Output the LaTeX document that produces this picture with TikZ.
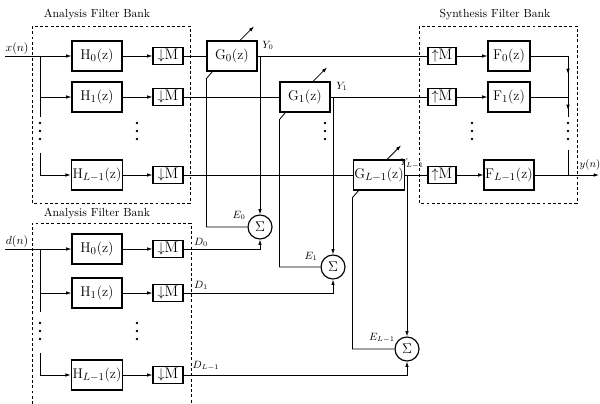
\documentclass[tikz,border=0pt]{standalone}
\usepackage{amsmath}
\usepackage{tikz}
\usetikzlibrary{arrows.meta,positioning,calc}
\newcommand{\dnM}{$\downarrow$M}
\newcommand{\upM}{$\uparrow$M}
\newcommand{\vdotsat}[2]{\foreach \k in {0,1,2} {\fill (#1,#2+\k*8) circle (1.1pt);}}
\tikzset{
  filt/.style={draw, line width=1pt, minimum width=1.5cm, minimum height=0.9cm, inner sep=1pt, font=\fontsize{13}{15}\selectfont},
  synth/.style={filt, minimum width=1.26cm},
  rate/.style={draw, line width=1pt, minimum width=0.9cm, minimum height=0.51cm, inner sep=1pt, font=\fontsize{13}{15}\selectfont},
  rateup/.style={rate, minimum width=0.84cm},
  adder/.style={draw, line width=1pt, circle, minimum size=0.72cm, inner sep=0pt, font=\large},
  bank/.style={dashed, semithick, dash pattern=on 2.5pt off 2pt},
  lab/.style={inner sep=1pt, font=\small},
  title/.style={inner sep=1pt, font=\normalsize}
}

\begin{document}
\begin{tikzpicture}[x=0.03cm, y=-0.03cm, line width=0.7pt, >={Latex[length=4.5pt,width=3pt]}]
  \useasboundingbox (0,0) rectangle (600,404);

  % Filter banks
  \draw[bank] (32,26) rectangle (190,203);
  \node[title] (tabank) at (97,15) {Analysis Filter Bank};
  \draw[bank] (32,404) |- (191,223) -- (191,404);
  \node[title] (dabank) at (97,214) {Analysis Filter Bank};
  \draw[bank] (419,26) rectangle (577,203);
  \node[title] (sbank) at (495,15) {Synthesis Filter Bank};

  % Analysis rows for x(n) and d(n)
  \foreach \i/\y/\s in {0/56/0, 1/97/1, L/175/{L-1}} {
    \node[filt] (Hx\i) at (97,\y) {$\mathrm{H}_{\s}(\mathrm{z})$};
    \node[rate] (Mx\i) at (168,\y) {\dnM};
    \draw[->] (Hx\i) -- (Mx\i);
  }
  \foreach \i/\y/\s in {0/249/0, 1/293/1, L/375/{L-1}} {
    \node[filt] (Hd\i) at (97,\y) {$\mathrm{H}_{\s}(\mathrm{z})$};
    \node[rate] (Md\i) at (168,\y) {\dnM};
    \draw[->] (Hd\i) -- (Md\i);
  }

  % Inputs and branches
  \coordinate (xin) at (5,56);
  \coordinate (bx) at (40,56);
  \node[lab, above, font=\normalsize] (xlab) at (17,56) {$x(n)$};
  \draw[->] (xin) -- (Hx0);
  \draw (bx) -- ++(0,61);
  \draw[->] (bx |- Hx1) -- (Hx1);
  \draw[->] (40,153) |- (HxL);

  \coordinate (din) at (5,249);
  \coordinate (bd) at (40,249);
  \node[lab, above, font=\normalsize] (dlab) at (17,249) {$d(n)$};
  \draw[->] (din) -- (Hd0);
  \draw (bd) -- ++(0,63);
  \draw[->] (bd |- Hd1) -- (Hd1);
  \draw[->] (40,353) |- (HdL);

  \vdotsat{40}{123}
  \vdotsat{137}{123}
  \vdotsat{40}{323}
  \vdotsat{137}{323}

  % Adaptive filters
  \node[filt] (G0) at (232,56) {$\mathrm{G}_0(\mathrm{z})$};
  \node[filt] (G1) at (305,97) {$\mathrm{G}_1(\mathrm{z})$};
  \node[filt] (GL) at (379,175) {$\mathrm{G}_{L-1}(\mathrm{z})$};
  \foreach \g in {G0,G1,GL}
    \draw[->] ($(\g.north)+(8,0)$) -- ++(14,-14);
  \vdotsat{325}{123}

  \node[adder] (S0) at (260,227) {$\Sigma$};
  \node[adder] (S1) at (333,267) {$\Sigma$};
  \node[adder] (SL) at (407,349) {$\Sigma$};

  % Synthesis rows
  \foreach \i/\y/\s in {0/56/0, 1/97/1, L/175/{L-1}} {
    \node[rateup] (U\i) at (442,\y) {\upM};
    \node[synth] (F\i) at (509,\y) {$\mathrm{F}_{\s}(\mathrm{z})$};
    \draw[->] (U\i) -- (F\i);
    \draw (Mx\i) -- (G\i);
    \draw (G\i) -- (U\i);
  }
  \vdotsat{472}{123}

  % Taps, errors and desired signals
  \foreach \i in {0,1,L} {
    \draw[->] (G\i.east -| S\i) -- (S\i);
    \draw (S\i) -| ($(G\i.south west)+(0,7)$) -- ($(G\i.south west)+(6,0)$);
    \draw[->] (Md\i) -| (S\i);
  }
  \node[lab] (y0) at (268,45) {$Y_0$};
  \node[lab] (y1) at (342,86) {$Y_1$};
  \node[lab, font=\footnotesize] (yl) at (412,164) {$Y_{L-1}$};
  \node[lab] (e0) at (239,215) {$E_0$};
  \node[lab] (e1) at (311,256) {$E_1$};
  \node[lab] (el) at (382,338) {$E_{L-1}$};
  \node[lab] (d0) at (201,242) {$D_0$};
  \node[lab] (d1) at (201,285) {$D_1$};
  \node[lab] (dl) at (206,366) {$D_{L-1}$};

  % Output sum
  \coordinate (c0) at (568,56);
  \coordinate (c1) at (568,97);
  \coordinate (cL) at (568,175);
  \coordinate (yout) at (599,175);
  \draw (F0) -- (c0) -- (c1);
  \draw[->] (c0) -- ++(0,18);
  \draw (F1) -- (c1) -- ++(0,20);
  \draw[->] (c1) -- ++(0,13);
  \draw (568,150) -- (cL);
  \draw (FL) -- (cL);
  \draw[->] (cL) -- (yout);
  \vdotsat{568}{123}
  \node[lab, anchor=west] (ylab) at (578,165) {$y(n)$};
\end{tikzpicture}
\end{document}
